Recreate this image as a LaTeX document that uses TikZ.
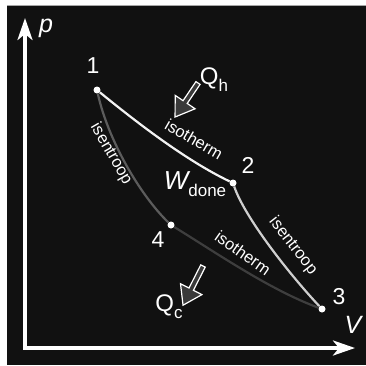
\documentclass[tikz,border=0pt]{standalone}
\usepackage{fontspec}
\setmainfont{Liberation Sans}
\usetikzlibrary{arrows.meta}
\definecolor{bgblack}{HTML}{111111}
\definecolor{cA}{HTML}{F2F2F2}
\definecolor{cB}{HTML}{CFCFCF}
\definecolor{cC}{HTML}{3E3E3E}
\definecolor{cD}{HTML}{5C5C5C}
\definecolor{arrfill}{HTML}{3A3A3A}
\tikzset{
  lbl/.style={text=white, font=\fontsize{16.5}{16.5}\selectfont, inner sep=0pt},
  num/.style={text=white, font=\fontsize{23}{23}\selectfont, inner sep=0pt},
  axlbl/.style={text=white, font=\fontsize{25}{25}\selectfont\itshape, inner sep=0pt},
  qlbl/.style={text=white, font=\fontsize{24}{24}\selectfont, inner sep=0pt},
  dot/.style={circle, fill=white, inner sep=0pt, minimum size=7pt},
  axis/.style={white, line width=3.5pt, -{Stealth[length=22pt,width=15pt,inset=6pt]}},
  curve/.style={line width=2.2pt},
  blockarrow/.style={draw=white, fill=arrfill, line width=1.2pt, line join=miter}
}
\begin{document}
\begin{tikzpicture}[x=1pt,y=-1pt]
\useasboundingbox (0,0) rectangle (366,365);
\fill[white] (0,0) rectangle (366,365);
\fill[bgblack] (7,5) rectangle (366,365);
\draw[gray!70, line width=1pt] (7,5.5) -- (366,5.5);

% axes
\coordinate (origin) at (25,348);
\coordinate (ytip) at (25,18);
\coordinate (xtip) at (355,348);
\draw[axis] ([yshift=1.75pt]origin) -- (ytip);
\draw[axis] ([xshift=-1.75pt]origin) -- (xtip);
\node[axlbl] (plbl) at (46,28) {p};
\node[axlbl] (vlbl) at (353,325) {V};

% state points
\node[dot] (p1) at (97,90) {};
\node[dot] (p2) at (233,183) {};
\node[dot] (p3) at (322,309) {};
\node[dot] (p4) at (171,225) {};
\node[num] (n1) at (93,66) {1};
\node[num] (n2) at (248,165) {2};
\node[num] (n3) at (339,297) {3};
\node[num] (n4) at (158,240) {4};

% cycle
\draw[curve, cA] (p1) .. controls (135,121) and (185,160) .. (p2);
\draw[curve, cB] (p2) .. controls (245,218) and (290,275) .. (p3);
\draw[curve, cC] (p3) .. controls (270,290) and (215,252) .. (p4);
\draw[curve, cD] (p4) .. controls (140,195) and (108,140) .. (p1);

% process labels
\node[lbl, rotate=-30] (iso1) at (194,139) {isotherm};
\node[lbl, rotate=-60] (isen1) at (111,154) {isentroop};
\node[lbl, rotate=-52] (isen2) at (293,246) {isentroop};
\node[lbl, rotate=-35] (iso2) at (243,253) {isotherm};

% work
\node[text=white, inner sep=0pt] (w) at (195,184)
  {\fontsize{26}{26}\selectfont\itshape W\upshape\raisebox{-0.28em}{\fontsize{17}{17}\selectfont done}};

% heat arrows
\begin{scope}[shift={(198,83)}, rotate=-124]
  \draw[blockarrow] (0,-2.5) -- (23,-2.5) -- (23,-12) -- (41,0) -- (23,12) -- (23,2.5) -- (0,2.5) -- cycle;
\end{scope}
\begin{scope}[shift={(203,266)}, rotate=-117]
  \draw[blockarrow] (0,-2.5) -- (26,-2.5) -- (26,-12) -- (44,0) -- (26,12) -- (26,2.5) -- (0,2.5) -- cycle;
\end{scope}
\node[qlbl] (qh) at (214,80) {Q\raisebox{-0.3em}{\fontsize{17}{17}\selectfont h}};
\node[qlbl] (qc) at (169,307) {Q\raisebox{-0.3em}{\fontsize{17}{17}\selectfont c}};
\end{tikzpicture}
\end{document}
